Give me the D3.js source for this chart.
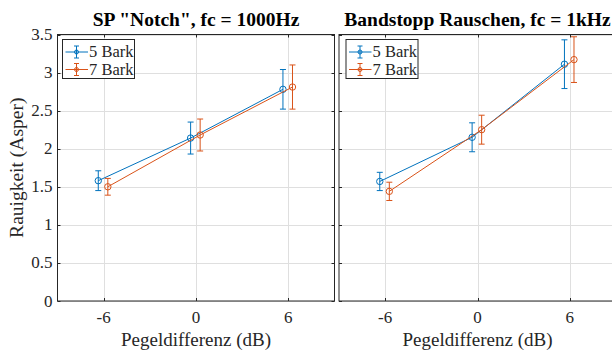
<!DOCTYPE html>
<html>
<head>
<meta charset="utf-8">
<script src="https://cdn.jsdelivr.net/npm/d3@7"></script>
<style>
  html, body { margin: 0; padding: 0; background: #fff; }
  svg text { font-family: "Liberation Serif", "Times New Roman", serif; fill: #262626; }
</style>
</head>
<body>
<div id="chart"></div>
<script>

/* -----------------------
    DATA
 -------------------------- */

var pegel = [-6, 0, 6];
var xTicks = [-6, 0, 6];
var yTicks = [0, 0.5, 1, 1.5, 2, 2.5, 3, 3.5];
var seriesNames = ['5 Bark', '7 Bark'];
var seriesOffset = [-0.35, 0.27];
var titles = ['SP "Notch", fc = 1000Hz', 'Bandstopp Rauschen, fc = 1kHz'];

//-- SP NOTCH
var notch5Mean = [1.58, 2.14, 2.78];
var notch5Err = [0.13, 0.21, 0.26];
var notch7Mean = [1.50, 2.18, 2.81];
var notch7Err = [0.11, 0.21, 0.29];

//-- BANDSTOPP RAUSCHEN
var band5Mean = [1.57, 2.15, 3.11];
var band5Err = [0.12, 0.19, 0.32];
var band7Mean = [1.44, 2.25, 3.17];
var band7Err = [0.12, 0.19, 0.30];

/* -----------------------
    SETUP
 -------------------------- */

var W = 612, H = 352;
var colors = ['#0072BD', '#D95319'];
var axisColor = '#262626';
var gridColor = '#dfdfdf';

var panels = [
  { x0: 57.5, title: titles[0], legendDx: 4.5, yLabel: true,
    series: [{ mean: notch5Mean, err: notch5Err }, { mean: notch7Mean, err: notch7Err }] },
  { x0: 339, title: titles[1], legendDx: 6.5, yLabel: false,
    series: [{ mean: band5Mean, err: band5Err }, { mean: band7Mean, err: band7Err }] }
];
var pw = 277, plotTop = 34.5, plotBottom = 301;

var svg = d3.select('#chart').append('svg')
  .attr('width', W)
  .attr('height', H);

svg.append('rect').attr('width', W).attr('height', H).attr('fill', '#fff');

var scaleY = d3.scaleLinear().domain([0, 3.5]).range([plotBottom, plotTop]);

panels.forEach(function(p, pi) {

  var scaleX = d3.scaleLinear().domain([-9, 9]).range([p.x0, p.x0 + pw]);
  var g = svg.append('g');

  //-- CLIP
  var clipId = 'clip' + pi;
  g.append('clipPath').attr('id', clipId)
    .append('rect')
    .attr('x', p.x0).attr('y', plotTop)
    .attr('width', pw).attr('height', plotBottom - plotTop);

  //-- GRID
  g.append('g').selectAll('line').data(xTicks).join('line')
    .attr('x1', function(d) { return Math.round(scaleX(d)) + 0.5; })
    .attr('x2', function(d) { return Math.round(scaleX(d)) + 0.5; })
    .attr('y1', plotTop).attr('y2', plotBottom)
    .attr('stroke', gridColor).attr('stroke-width', 1);

  g.append('g').selectAll('line').data(yTicks).join('line')
    .attr('x1', p.x0).attr('x2', p.x0 + pw)
    .attr('y1', function(d) { return Math.round(scaleY(d)) + 0.5; })
    .attr('y2', function(d) { return Math.round(scaleY(d)) + 0.5; })
    .attr('stroke', gridColor).attr('stroke-width', 1);

  //-- SERIES
  var plot = g.append('g').attr('clip-path', 'url(#' + clipId + ')');

  p.series.forEach(function(s, si) {
    var pts = pegel.map(function(v, i) {
      return { x: v + seriesOffset[si], y: s.mean[i], e: s.err[i] };
    });
    var sg = plot.append('g');

    sg.append('path')
      .datum(pts)
      .attr('fill', 'none')
      .attr('stroke', colors[si])
      .attr('stroke-width', 1)
      .attr('d', d3.line()
        .x(function(d) { return scaleX(d.x); })
        .y(function(d) { return scaleY(d.y); }));

    var bars = sg.selectAll('.bar').data(pts).join('g').attr('class', 'bar');
    bars.append('line')
      .attr('x1', function(d) { return scaleX(d.x); })
      .attr('x2', function(d) { return scaleX(d.x); })
      .attr('y1', function(d) { return scaleY(d.y - d.e); })
      .attr('y2', function(d) { return scaleY(d.y + d.e); })
      .attr('stroke', colors[si]).attr('stroke-width', 1);
    [-1, 1].forEach(function(sign) {
      bars.append('line')
        .attr('x1', function(d) { return scaleX(d.x) - 3; })
        .attr('x2', function(d) { return scaleX(d.x) + 3; })
        .attr('y1', function(d) { return scaleY(d.y + sign * d.e); })
        .attr('y2', function(d) { return scaleY(d.y + sign * d.e); })
        .attr('stroke', colors[si]).attr('stroke-width', 1);
    });
    bars.append('circle')
      .attr('cx', function(d) { return scaleX(d.x); })
      .attr('cy', function(d) { return scaleY(d.y); })
      .attr('r', 3.2)
      .attr('fill', 'none')
      .attr('stroke', colors[si]).attr('stroke-width', 1);
  });

  //-- BOX + TICKS
  g.append('rect')
    .attr('x', p.x0).attr('y', plotTop)
    .attr('width', pw).attr('height', plotBottom - plotTop)
    .attr('fill', 'none').attr('stroke', axisColor).attr('stroke-width', 1);

  var tl = 3;
  xTicks.forEach(function(d) {
    var x = Math.round(scaleX(d)) + 0.5;
    g.append('line').attr('x1', x).attr('x2', x).attr('y1', plotBottom).attr('y2', plotBottom - tl)
      .attr('stroke', axisColor);
    g.append('line').attr('x1', x).attr('x2', x).attr('y1', plotTop).attr('y2', plotTop + tl)
      .attr('stroke', axisColor);
  });
  yTicks.forEach(function(d) {
    var y = Math.round(scaleY(d)) + 0.5;
    g.append('line').attr('x1', p.x0).attr('x2', p.x0 + tl).attr('y1', y).attr('y2', y)
      .attr('stroke', axisColor);
    g.append('line').attr('x1', p.x0 + pw).attr('x2', p.x0 + pw - tl).attr('y1', y).attr('y2', y)
      .attr('stroke', axisColor);
  });

  //-- TICK LABELS
  g.append('g').selectAll('text').data(xTicks).join('text')
    .attr('x', function(d) { return scaleX(d); })
    .attr('y', 323)
    .attr('text-anchor', 'middle')
    .style('font-size', '17px')
    .text(function(d) { return d; });

  if (p.yLabel) {
    g.append('g').selectAll('text').data(yTicks).join('text')
      .attr('x', 52.5)
      .attr('y', function(d) { return scaleY(d) + 5.5; })
      .attr('text-anchor', 'end')
      .style('font-size', '17px')
      .text(function(d) { return d; });

    g.append('text')
      .attr('transform', 'translate(23,' + (plotTop + plotBottom) / 2 + ') rotate(-90)')
      .attr('text-anchor', 'middle')
      .style('font-size', '19.5px')
      .text('Rauigkeit (Asper)');
  }

  //-- AXIS LABEL + TITLE
  g.append('text')
    .attr('x', p.x0 + pw / 2)
    .attr('y', 345.5)
    .attr('text-anchor', 'middle')
    .style('font-size', '19px')
    .text('Pegeldifferenz (dB)');

  g.append('text')
    .attr('x', p.x0 + pw / 2)
    .attr('y', 26)
    .attr('text-anchor', 'middle')
    .style('font-size', '19.5px')
    .style('font-weight', 'bold')
    .style('fill', '#000')
    .text(p.title);

  //-- LEGEND
  var lx = p.x0 + p.legendDx, ly = plotTop + 4.5;
  var lg = g.append('g').attr('transform', 'translate(' + lx + ',' + ly + ')');
  lg.append('rect')
    .attr('x', 0.5).attr('y', 0.5)
    .attr('width', 72).attr('height', 39)
    .attr('fill', '#fff').attr('stroke', axisColor).attr('stroke-width', 1);

  seriesNames.forEach(function(name, si) {
    var cy = 13 + si * 17.5;
    var e = lg.append('g').attr('stroke', colors[si]).attr('stroke-width', 1);
    e.append('line').attr('x1', 3.5).attr('x2', 26).attr('y1', cy).attr('y2', cy);
    e.append('line').attr('x1', 14.5).attr('x2', 14.5).attr('y1', cy - 6).attr('y2', cy + 6);
    e.append('line').attr('x1', 12).attr('x2', 17).attr('y1', cy - 6).attr('y2', cy - 6);
    e.append('line').attr('x1', 12).attr('x2', 17).attr('y1', cy + 6).attr('y2', cy + 6);
    e.append('circle').attr('cx', 14.5).attr('cy', cy).attr('r', 2).attr('fill', 'none');
    lg.append('text')
      .attr('x', 27)
      .attr('y', cy + 5)
      .style('font-size', '16.5px')
      .text(name);
  });
});

</script>
</body>
</html>
